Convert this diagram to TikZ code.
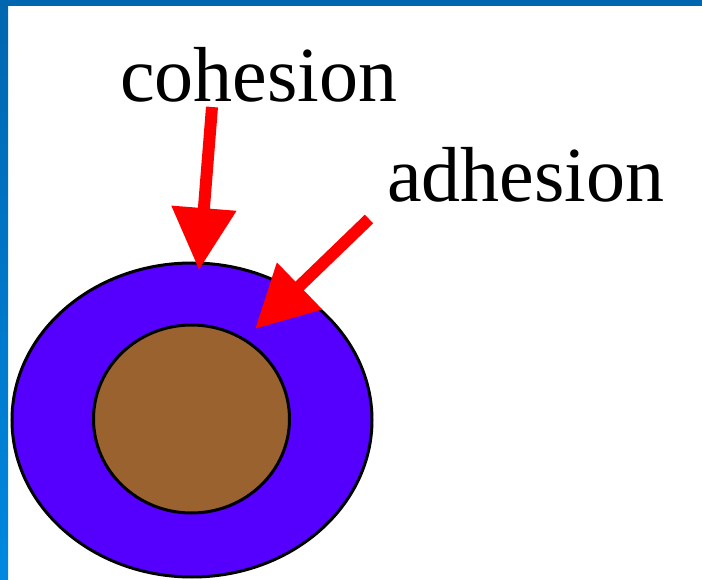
\documentclass[tikz,border=0pt]{standalone}
\usepackage{fontspec}
\setmainfont{Liberation Serif}
\usetikzlibrary{arrows.meta, positioning, calc}
\definecolor{frameblue}{RGB}{0,102,176}
\definecolor{framelight}{RGB}{0,136,224}
\definecolor{layer}{RGB}{85,0,255}
\definecolor{core}{RGB}{153,98,46}
\definecolor{pointer}{RGB}{255,0,0}

\tikzset{
  label text/.style={anchor=base west, inner sep=0pt, font=\fontsize{78}{80}\selectfont},
  force/.style={pointer, line width=12pt, -{Triangle[length=62pt,width=62pt]}}
}

\begin{document}
\begin{tikzpicture}[x=1pt, y=-1pt]
  \useasboundingbox (0,0) rectangle (702,580);
  \fill[white] (0,0) rectangle (702,580);
  % frame
  \fill[frameblue] (0,0) rectangle (702,6);
  \shade[top color=frameblue, bottom color=framelight] (0,0) rectangle (8,580);
  % drop
  \filldraw[fill=layer, draw=black, line width=3pt] (192,420) ellipse [x radius=180, y radius=157];
  \filldraw[fill=core, draw=black, line width=3pt] (191.5,419) ellipse [x radius=98, y radius=94];
  % labels
  \node[label text] (cohesion) at (120,102) {cohesion};
  \node[label text] (adhesion) at (387,202) {adhesion};
  % arrows
  \coordinate (cohtail) at (212,107);
  \coordinate (cohtip) at (199,270);
  \coordinate (adhtail) at (369,219);
  \coordinate (adhtip) at (255,329);
  \draw[force] (cohtail) -- (cohtip);
  \draw[force] (adhtail) -- (adhtip);
\end{tikzpicture}
\end{document}
